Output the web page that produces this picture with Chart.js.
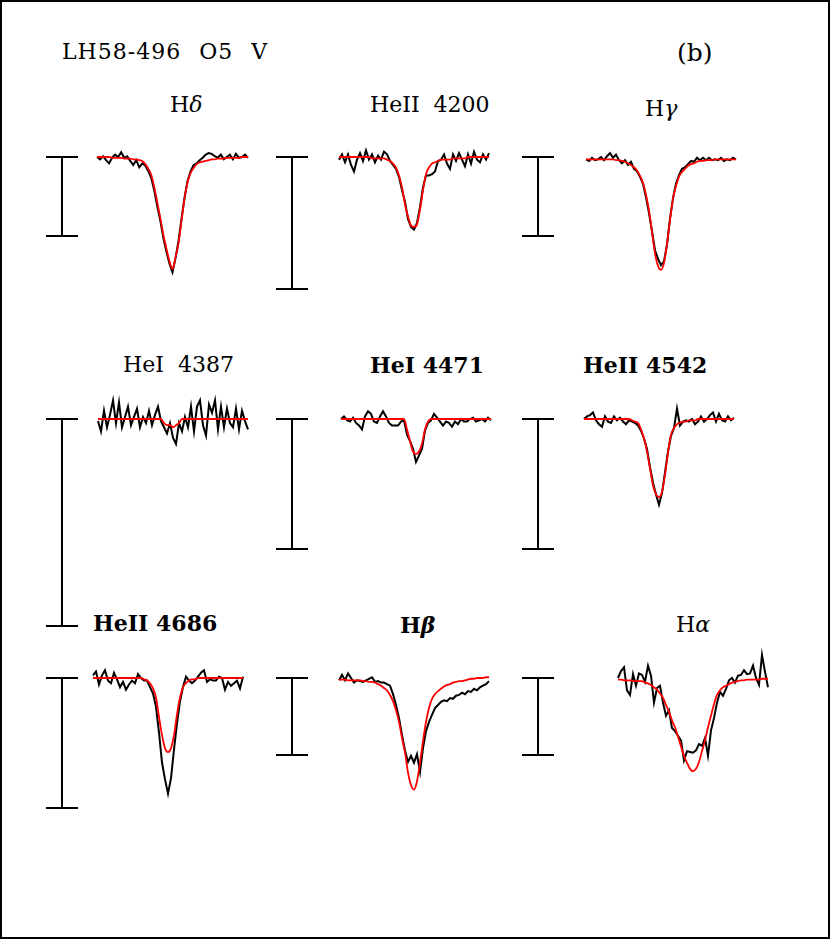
<!DOCTYPE html>
<html>
<head>
<meta charset="utf-8">
<script src="https://cdn.jsdelivr.net/npm/chart.js@4.4.0/dist/chart.umd.min.js"></script>
<style>
  body { margin: 0; background: #fff; }
  #page { position: relative; width: 830px; height: 939px; overflow: hidden; background: #fff; }
  #frame { position: absolute; left: 0; top: 0; width: 830px; height: 939px; box-sizing: border-box; border: 2px solid #000; pointer-events: none; }
  .lbl { position: absolute; font-family: 'DejaVu Serif', serif; font-size: 22px; line-height: 22px; color: #000; white-space: pre; }
  canvas { position: absolute; }
</style>
</head>
<body>
<div id="page">
  <div class="lbl" style="left:62px; top:41px; letter-spacing:1px; word-spacing:10px;">LH58-496 O5 V</div>
  <div class="lbl" style="left:677px; top:40px; font-size:25px; line-height:25px;">(b)</div>
  <div id="frame"></div>
</div>
<script>
// Relative wavelength bins, same grid for every line
const offsets = [-25, -24, -23, -22, -21, -20, -19, -18, -17, -16,
                 -15, -14, -13, -12, -11, -10, -9, -8, -7, -6,
                 -5, -4, -3, -2, -1, 0, 1, 2, 3, 4,
                 5, 6, 7, 8, 9, 10, 11, 12, 13, 14,
                 15, 16, 17, 18, 19, 20, 21, 22, 23, 24, 25];

const lineNames = ['Hδ', 'HeII 4200', 'Hγ', 'HeI 4387', 'HeI 4471', 'HeII 4542', 'HeII 4686', 'Hβ', 'Hα'];

// Scale bar = 10% of the continuum in every panel
const barFlux = 0.1;

// Observed (black) normalized flux
const obsHdelta = [1.000, 0.997, 1.001, 0.996, 0.992, 0.999, 1.003, 1.000, 1.006, 0.999,
                   1.001, 0.995, 0.990, 0.996, 0.987, 0.992, 0.989, 0.982, 0.973, 0.957,
                   0.937, 0.919, 0.897, 0.880, 0.865, 0.854, 0.872, 0.894, 0.922, 0.949,
                   0.970, 0.982, 0.990, 0.992, 0.996, 0.999, 1.003, 1.005, 1.004, 1.001,
                   0.999, 1.003, 0.997, 1.000, 1.003, 0.997, 1.004, 0.999, 1.000, 1.003, 0.999];
const obsHeII4200 = [0.998, 1.002, 0.996, 1.002, 0.994, 0.989, 0.998, 1.003, 0.997, 1.005,
                     0.998, 1.002, 0.996, 1.001, 0.998, 1.004, 1.002, 0.997, 0.994, 0.991,
                     0.985, 0.975, 0.966, 0.953, 0.947, 0.945, 0.950, 0.962, 0.977, 0.986,
                     0.986, 0.987, 0.989, 0.997, 0.998, 1.002, 0.995, 0.991, 1.002, 0.997,
                     1.003, 0.998, 0.993, 1.002, 0.995, 1.004, 0.998, 0.996, 1.002, 0.998, 1.003];
const obsHgamma = [0.997, 0.995, 0.999, 0.996, 0.997, 1.000, 0.996, 1.001, 1.005, 0.999,
                   1.003, 0.996, 0.992, 0.996, 0.990, 0.994, 0.985, 0.982, 0.975, 0.966,
                   0.949, 0.929, 0.906, 0.882, 0.871, 0.863, 0.868, 0.889, 0.922, 0.948,
                   0.966, 0.977, 0.985, 0.987, 0.991, 0.995, 0.994, 0.999, 0.996, 0.999,
                   0.996, 0.999, 0.996, 0.997, 0.996, 0.999, 0.995, 0.997, 0.996, 0.999, 0.997];
const obsHeI4387 = [0.999, 0.994, 1.004, 0.996, 1.002, 1.009, 0.998, 1.008, 0.996, 1.001,
                    1.006, 0.997, 1.001, 1.005, 0.996, 1.001, 0.998, 1.004, 0.997, 1.002,
                    1.006, 0.999, 0.996, 0.993, 0.998, 0.991, 0.988, 0.998, 0.994, 1.001,
                    0.996, 1.006, 0.994, 1.006, 1.009, 0.997, 0.992, 1.007, 1.003, 1.009,
                    0.995, 1.006, 0.996, 1.005, 0.998, 0.996, 1.005, 0.995, 1.004, 0.999, 0.995];
const obsHeI4471 = [1.000, 1.002, 0.999, 0.998, 1.001, 0.997, 0.995, 0.992, 1.002, 1.006,
                    1.004, 0.998, 0.997, 1.002, 1.006, 1.002, 0.997, 0.995, 0.995, 0.995,
                    0.998, 0.999, 0.988, 0.983, 0.977, 0.967, 0.972, 0.977, 0.991, 0.997,
                    0.999, 1.004, 1.001, 0.998, 0.995, 0.998, 0.997, 0.994, 0.998, 0.996,
                    1.000, 0.998, 0.998, 1.000, 1.001, 0.998, 0.999, 1.000, 0.998, 1.001, 0.999];
const obsHeII4542 = [1.000, 1.002, 1.003, 1.005, 0.999, 0.996, 0.994, 1.002, 0.998, 0.997,
                     1.002, 0.999, 1.001, 0.998, 0.996, 0.999, 0.998, 0.997, 0.995, 0.991,
                     0.985, 0.977, 0.963, 0.951, 0.942, 0.934, 0.943, 0.959, 0.975, 0.987,
                     0.993, 1.008, 0.995, 0.998, 0.999, 0.998, 1.000, 0.996, 0.998, 1.002,
                     0.998, 1.000, 1.003, 1.005, 0.998, 1.004, 0.999, 0.998, 1.002, 0.999, 1.001];
const obsHeII4686 = [1.002, 1.005, 0.995, 1.002, 1.006, 0.998, 0.996, 1.004, 0.999, 0.993,
                     0.997, 0.991, 0.995, 0.998, 0.996, 1.003, 1.000, 0.998, 0.998, 0.993,
                     0.988, 0.978, 0.958, 0.935, 0.922, 0.911, 0.923, 0.945, 0.965, 0.982,
                     0.993, 1.001, 0.998, 0.996, 0.998, 1.001, 1.004, 1.006, 0.997, 0.999,
                     0.998, 0.998, 1.001, 1.000, 0.991, 0.997, 0.994, 0.996, 0.998, 0.992, 1.001];
const obsHbeta = [0.997, 1.004, 0.997, 1.006, 1.000, 0.994, 0.997, 0.996, 0.995, 0.997,
                  0.999, 1.001, 0.995, 0.996, 0.994, 0.994, 0.992, 0.990, 0.979, 0.965,
                  0.948, 0.926, 0.906, 0.891, 0.899, 0.890, 0.901, 0.878, 0.909, 0.931,
                  0.943, 0.952, 0.961, 0.965, 0.969, 0.971, 0.970, 0.974, 0.973, 0.977,
                  0.978, 0.981, 0.979, 0.983, 0.982, 0.986, 0.984, 0.988, 0.990, 0.992, 0.996];
const obsHalpha = [1.000, 1.009, 1.014, 0.984, 0.978, 1.005, 0.990, 1.006, 1.004, 0.995,
                   1.016, 1.003, 0.968, 0.987, 0.990, 0.968, 0.951, 0.958, 0.935, 0.931,
                   0.925, 0.919, 0.893, 0.905, 0.904, 0.903, 0.906, 0.914, 0.912, 0.922,
                   0.899, 0.932, 0.948, 0.968, 0.982, 0.977, 0.986, 0.997, 1.000, 0.994,
                   1.003, 1.004, 1.010, 1.005, 1.006, 1.016, 1.000, 0.991, 1.030, 1.008, 0.988];

// Model fits (red)
const fitHdelta = [1.000, 1.000, 1.000, 1.000, 1.000, 0.999, 0.999, 0.999, 0.999, 0.998,
                   0.998, 0.998, 0.997, 0.997, 0.996, 0.995, 0.991, 0.985, 0.977, 0.961,
                   0.942, 0.922, 0.901, 0.884, 0.868, 0.858, 0.873, 0.891, 0.920, 0.948,
                   0.968, 0.980, 0.986, 0.991, 0.993, 0.994, 0.995, 0.996, 0.997, 0.997,
                   0.998, 0.998, 0.998, 0.999, 0.999, 0.999, 0.999, 0.999, 1.000, 1.000, 1.000];
const fitHeII4200 = [1.000, 1.000, 1.000, 1.000, 1.000, 1.000, 1.000, 1.000, 1.000, 1.000,
                     1.000, 0.999, 0.999, 0.999, 0.999, 0.999, 0.998, 0.997, 0.995, 0.992,
                     0.986, 0.977, 0.964, 0.955, 0.948, 0.947, 0.949, 0.960, 0.975, 0.987,
                     0.992, 0.995, 0.996, 0.997, 0.998, 0.998, 0.998, 0.998, 0.999, 0.999,
                     0.999, 0.999, 0.999, 1.000, 1.000, 1.000, 1.000, 1.000, 1.000, 1.000, 1.000];
const fitHgamma = [0.997, 0.997, 0.997, 0.997, 0.997, 0.997, 0.997, 0.997, 0.997, 0.997,
                   0.996, 0.996, 0.995, 0.994, 0.992, 0.990, 0.987, 0.983, 0.976, 0.967,
                   0.952, 0.932, 0.905, 0.878, 0.862, 0.857, 0.866, 0.890, 0.920, 0.947,
                   0.963, 0.975, 0.981, 0.985, 0.989, 0.991, 0.992, 0.994, 0.995, 0.995,
                   0.996, 0.996, 0.996, 0.997, 0.997, 0.997, 0.997, 0.997, 0.997, 0.997, 0.997];
const fitHeI4387 = [1.000, 1.000, 1.000, 1.000, 1.000, 1.000, 1.000, 1.000, 1.000, 1.000,
                    1.000, 1.000, 1.000, 1.000, 1.000, 1.000, 1.000, 1.000, 1.000, 1.000,
                    1.000, 1.000, 0.998, 0.997, 0.997, 0.996, 0.997, 0.998, 1.000, 1.000,
                    1.000, 1.000, 1.000, 1.000, 1.000, 1.000, 1.000, 1.000, 1.000, 1.000,
                    1.000, 1.000, 1.000, 1.000, 1.000, 1.000, 1.000, 1.000, 1.000, 1.000, 1.000];
const fitHeI4471 = [1.000, 1.000, 1.000, 1.000, 1.000, 1.000, 1.000, 1.000, 1.000, 1.000,
                    1.000, 1.000, 1.000, 1.000, 1.000, 1.000, 1.000, 1.000, 1.000, 1.000,
                    1.000, 1.000, 0.992, 0.983, 0.975, 0.973, 0.975, 0.981, 0.992, 0.998,
                    1.000, 1.000, 1.000, 1.000, 1.000, 1.000, 1.000, 1.000, 1.000, 1.000,
                    1.000, 1.000, 1.000, 1.000, 1.000, 1.000, 1.000, 1.000, 1.000, 1.000, 1.000];
const fitHeII4542 = [1.000, 1.000, 1.000, 1.000, 1.000, 1.000, 1.000, 1.000, 1.000, 1.000,
                     1.000, 1.000, 1.000, 1.000, 1.000, 1.000, 0.999, 0.998, 0.997, 0.992,
                     0.985, 0.975, 0.962, 0.949, 0.942, 0.940, 0.944, 0.957, 0.974, 0.988,
                     0.993, 0.996, 0.997, 0.998, 0.998, 0.999, 0.999, 0.999, 1.000, 1.000,
                     1.000, 1.000, 1.000, 1.000, 1.000, 1.000, 1.000, 1.000, 1.000, 1.000, 1.000];
const fitHeII4686 = [1.000, 1.000, 1.000, 1.000, 1.000, 1.000, 1.000, 1.000, 1.000, 1.000,
                     1.000, 1.000, 1.000, 1.000, 1.000, 1.000, 1.000, 0.999, 0.998, 0.996,
                     0.992, 0.985, 0.970, 0.956, 0.946, 0.943, 0.946, 0.956, 0.972, 0.985,
                     0.993, 0.996, 0.998, 0.999, 0.999, 1.000, 1.000, 1.000, 1.000, 1.000,
                     1.000, 1.000, 1.000, 1.000, 1.000, 1.000, 1.000, 1.000, 1.000, 1.000, 1.000];
const fitHbeta = [0.998, 0.998, 0.998, 0.997, 0.997, 0.997, 0.997, 0.997, 0.996, 0.996,
                  0.995, 0.995, 0.994, 0.992, 0.990, 0.987, 0.984, 0.978, 0.970, 0.958,
                  0.943, 0.922, 0.903, 0.877, 0.861, 0.855, 0.866, 0.890, 0.918, 0.943,
                  0.961, 0.973, 0.979, 0.983, 0.986, 0.989, 0.991, 0.992, 0.994, 0.995,
                  0.996, 0.996, 0.997, 0.998, 0.999, 0.999, 1.000, 1.000, 1.000, 1.001, 1.001];
const fitHalpha = [0.998, 0.998, 0.997, 0.997, 0.997, 0.996, 0.996, 0.996, 0.996, 0.994,
                   0.993, 0.991, 0.988, 0.985, 0.980, 0.974, 0.965, 0.956, 0.945, 0.936,
                   0.924, 0.911, 0.899, 0.890, 0.882, 0.879, 0.882, 0.891, 0.905, 0.919,
                   0.936, 0.951, 0.966, 0.978, 0.984, 0.988, 0.990, 0.992, 0.994, 0.995,
                   0.996, 0.997, 0.997, 0.998, 0.998, 0.998, 0.998, 0.998, 0.999, 0.999, 0.999];

const obsSeries = [obsHdelta, obsHeII4200, obsHgamma, obsHeI4387, obsHeI4471, obsHeII4542, obsHeII4686, obsHbeta, obsHalpha];
const fitSeries = [fitHdelta, fitHeII4200, fitHgamma, fitHeI4387, fitHeI4471, fitHeII4542, fitHeII4686, fitHbeta, fitHalpha];

// Panel placement on the page (pixels)
const layout = [
    { dataLeft: 97,  dataRight: 248, contY: 157, barX: 62,  barPx: 79,  titleX: 170, titleY: 97,  bold: false },
    { dataLeft: 339, dataRight: 489, contY: 157, barX: 292, barPx: 132, titleX: 370, titleY: 97,  bold: false },
    { dataLeft: 586, dataRight: 736, contY: 157, barX: 538, barPx: 79,  titleX: 645, titleY: 101, bold: false },
    { dataLeft: 98,  dataRight: 248, contY: 419, barX: 62,  barPx: 207, titleX: 123, titleY: 357, bold: false },
    { dataLeft: 341, dataRight: 491, contY: 419, barX: 292, barPx: 130, titleX: 370, titleY: 357, bold: true },
    { dataLeft: 584, dataRight: 734, contY: 419, barX: 538, barPx: 130, titleX: 583, titleY: 357, bold: true },
    { dataLeft: 93,  dataRight: 243, contY: 678, barX: 62,  barPx: 130, titleX: 93,  titleY: 615, bold: true },
    { dataLeft: 339, dataRight: 489, contY: 678, barX: 292, barPx: 77,  titleX: 400, titleY: 617, bold: true },
    { dataLeft: 618, dataRight: 768, contY: 678, barX: 538, barPx: 77,  titleX: 676, titleY: 617, bold: false }
];

// Draws the vertical "I" scale bar from the continuum down by barFlux
const scaleBar = {
    id: 'scaleBar',
    afterDatasetsDraw(chart, args, opts) {
        const ctx = chart.ctx;
        const y = chart.scales.y;
        const x = Math.round(chart.chartArea.left - opts.gap);
        const top = Math.round(y.getPixelForValue(1));
        const bottom = Math.round(y.getPixelForValue(1 - opts.flux));
        ctx.save();
        ctx.strokeStyle = '#000';
        ctx.lineWidth = 2;
        ctx.beginPath();
        ctx.moveTo(x, top); ctx.lineTo(x, bottom);
        ctx.moveTo(x - 16, top); ctx.lineTo(x + 16, top);
        ctx.moveTo(x - 16, bottom); ctx.lineTo(x + 16, bottom);
        ctx.stroke();
        ctx.restore();
    }
};

const page = document.getElementById('page');
const toPoints = arr => offsets.map((x, i) => ({ x: x, y: arr[i] }));

layout.forEach((p, i) => {
    // title
    const t = document.createElement('div');
    t.className = 'lbl';
    t.style.left = p.titleX + 'px';
    t.style.top = (p.titleY - 2.6) + 'px';
    t.style.fontWeight = p.bold ? 'bold' : 'normal';
    t.style.wordSpacing = p.bold ? '0px' : '7px';
    t.innerHTML = lineNames[i].replace(/([α-ω])/g, '<i>$1</i>');
    page.insertBefore(t, page.firstChild);

    // canvas big enough for bar and line profile
    const above = 45;
    const below = Math.max(p.barPx, 125) + 12;
    const cLeft = p.barX - 20;
    const cRight = p.dataRight + 10;
    const canvas = document.createElement('canvas');
    canvas.width = cRight - cLeft;
    canvas.height = above + below;
    canvas.style.left = cLeft + 'px';
    canvas.style.top = (p.contY - above) + 'px';
    page.insertBefore(canvas, document.getElementById('frame'));

    const k = p.barPx / barFlux; // pixels per unit flux

    new Chart(canvas, {
        type: 'line',
        data: {
            datasets: [{
                data: toPoints(fitSeries[i]),
                borderColor: '#ff0000',
                borderWidth: 1.8,
                pointRadius: 0,
                cubicInterpolationMode: 'monotone',
                clip: false,
                order: 0
            }, {
                data: toPoints(obsSeries[i]),
                borderColor: '#000000',
                borderWidth: 2,
                pointRadius: 0,
                tension: 0,
                clip: false,
                order: 1
            }]
        },
        options: {
            responsive: false,
            animation: false,
            events: [],
            layout: {
                padding: { left: p.dataLeft - cLeft, right: cRight - p.dataRight, top: 0, bottom: 0 }
            },
            scales: {
                x: { type: 'linear', min: -25, max: 25, display: false },
                y: { type: 'linear', min: 1 - below / k, max: 1 + above / k, display: false }
            },
            plugins: {
                legend: { display: false },
                tooltip: { enabled: false },
                scaleBar: { gap: p.dataLeft - p.barX, flux: barFlux }
            }
        },
        plugins: [scaleBar]
    });
});
</script>
</body>
</html>
